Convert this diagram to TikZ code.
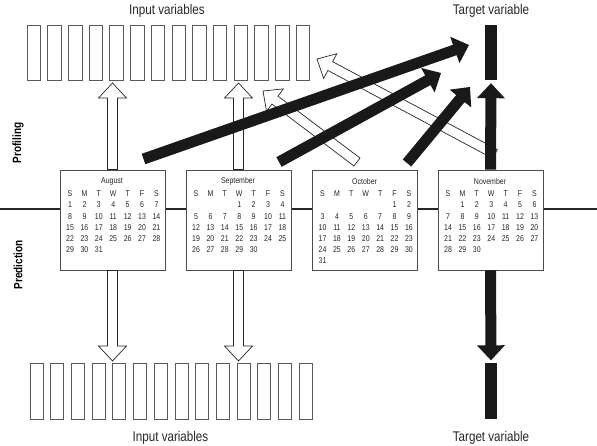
\documentclass[tikz,border=0pt]{standalone}
\usepackage{fontspec}
\setmainfont[FakeStretch=0.83]{Liberation Sans}
\usetikzlibrary{calc}

% block arrow: style, half shaft width, tail, tip
\newcommand{\blockarrow}[4]{%
  \coordinate (hb) at ($(#4)!15pt!(#3)$);
  \path[#1] ($(#3)!#2!90:(#4)$) -- ($(hb)!#2!90:(#4)$) -- ($(hb)!14pt!90:(#4)$) -- (#4)
    -- ($(hb)!14pt!-90:(#4)$) -- ($(hb)!#2!-90:(#4)$) -- ($(#3)!#2!-90:(#4)$) -- cycle;
}

% month sheet: node, name, weekday of the 1st, days
\newcommand{\calmonth}[4]{%
  \begin{scope}[shift={(#1.north west)}]
    \node[calnum] at (52.5,11.7) {#2};
    \foreach \d [count=\c from 0] in {S,M,T,W,T,F,S}
      \node[calnum] at ({10.5+14.4*\c},24.3) {\d};
    \foreach \n in {1,...,#4} {
      \pgfmathtruncatemacro\cpos{\n+#3-1}
      \pgfmathtruncatemacro\ccol{mod(\cpos,7)}
      \pgfmathtruncatemacro\crow{div(\cpos,7)+1}
      \node[calnum] at ({10.5+14.4*\ccol},{24.3+11.2*\crow}) {\n};
    }
  \end{scope}
}

\begin{document}
\begin{tikzpicture}[x=1pt,y=-1pt,line join=miter,
    inbar/.style={draw=black!65,line width=0.8pt,minimum width=13.5pt,minimum height=55pt,inner sep=0pt},
    tgtbar/.style={fill=black!90,minimum width=12pt,minimum height=55pt,inner sep=0pt},
    calbox/.style={draw=black!70,fill=white,line width=0.9pt,minimum width=105pt,minimum height=100pt,inner sep=0pt},
    calnum/.style={font=\fontsize{8.4}{9}\selectfont,text=black!85,inner sep=0pt},
    varlabel/.style={font=\fontsize{14}{16}\selectfont,text=black!85,inner sep=0pt},
    phase/.style={font=\fontsize{12}{14}\selectfont\bfseries,rotate=90,inner sep=0pt},
    openarrow/.style={draw=black!85,line width=0.7pt,fill=white},
    blackarrow/.style={fill=black!90}]
  \useasboundingbox (0,0) rectangle (597,445);

  % variables
  \foreach \i in {0,...,13}
    \node[inbar] (in\i) at ({33.75+20.7*\i},52.5) {};
  \foreach \i in {0,...,13}
    \node[inbar,minimum width=13pt,minimum height=56pt] (out\i) at ({36.5+20.7*\i},391) {};
  \node[tgtbar] (tgt) at (491,52.5) {};
  \node[tgtbar,minimum height=56pt] (tgtb) at (491,390.5) {};
  \node[varlabel] (intop) at (167,11.3) {Input variables};
  \node[varlabel] (tgttop) at (491,11.3) {Target variable};
  \node[varlabel] (inbot) at (170.5,438) {Input variables};
  \node[varlabel] (tgtbot) at (491,438) {Target variable};
  \node[phase] (prof) at (18,143) {Profiling};
  \node[phase] (pred) at (18,265) {Prediction};

  % time line and months
  \draw[line width=1.3pt,black!85] (0,209) -- (597,209);
  \node[calbox] (aug) at (112.5,220) {};
  \node[calbox] (sep) at (238.5,220) {};
  \node[calbox] (oct) at (365,220) {};
  \node[calbox] (nov) at (490.5,220) {};
  \calmonth{aug}{August}{0}{31}
  \calmonth{sep}{September}{3}{30}
  \calmonth{oct}{October}{5}{31}
  \calmonth{nov}{November}{1}{30}

  % arrow ends
  \coordinate (augup) at (112.5,83);
  \coordinate (sepup) at (238.5,83);
  \coordinate (augdn) at (112.5,361);
  \coordinate (sepdn) at (238.5,361);
  \coordinate (novup) at ($(tgt.south)+(0,3)$);
  \coordinate (novdn) at ($(tgtb.north)+(0,-2)$);
  \coordinate (novtail) at (495,154);
  \coordinate (novin) at (317,59);
  \coordinate (octtail) at (357,162);
  \coordinate (octin) at (263,91);
  \coordinate (augtail) at (143.5,159);
  \coordinate (augtgt) at (469,45);
  \coordinate (septail) at (279,162);
  \coordinate (septgt) at (441,73);
  \coordinate (octtail2) at (407,163);
  \coordinate (octtgt) at (470,87);

  % open arrows
  \blockarrow{openarrow}{5pt}{aug.north}{augup}
  \blockarrow{openarrow}{5pt}{sep.north}{sepup}
  \blockarrow{openarrow}{5pt}{aug.south}{augdn}
  \blockarrow{openarrow}{5pt}{sep.south}{sepdn}
  \blockarrow{openarrow}{5pt}{novtail}{novin}
  \blockarrow{openarrow}{5pt}{octtail}{octin}

  % black arrows
  \blockarrow{blackarrow}{5.5pt}{augtail}{augtgt}
  \blockarrow{blackarrow}{5.5pt}{septail}{septgt}
  \blockarrow{blackarrow}{5.5pt}{octtail2}{octtgt}
  \blockarrow{blackarrow}{5.5pt}{nov.north}{novup}
  \blockarrow{blackarrow}{5.5pt}{nov.south}{novdn}
\end{tikzpicture}
\end{document}
